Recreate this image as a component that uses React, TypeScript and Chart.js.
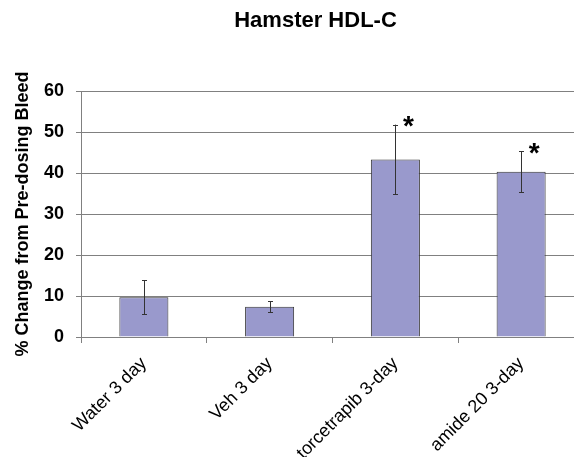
import React, { useEffect, useRef } from "react";
import { Chart, registerables } from "chart.js";

Chart.register(...registerables);

const categories = ["Water 3 day", "Veh 3 day", "torcetrapib 3-day", "amide 20 3-day"];
const means = [9.7, 7.4, 43.3, 40.3];
const errors = [4.1, 1.3, 8.5, 5.0];
const significance = ["", "", "*", "*"];
const yTicks = [0, 10, 20, 30, 40, 50, 60];

const FONT = "'Liberation Sans', Arial, sans-serif";
const W = 631;
const H = 470;

const errorBarPlugin = {
  id: "errorBars",
  afterDatasetsDraw(chart: any) {
    const ctx = chart.ctx;
    const meta = chart.getDatasetMeta(0);
    const y = chart.scales.y;
    ctx.save();
    ctx.strokeStyle = "#333333";
    ctx.lineWidth = 1;
    meta.data.forEach((bar: any, i: number) => {
      const x = Math.round(bar.x) + 0.5;
      const top = y.getPixelForValue(means[i] + errors[i]);
      const bot = y.getPixelForValue(means[i] - errors[i]);
      ctx.beginPath();
      ctx.moveTo(x, top);
      ctx.lineTo(x, bot);
      ctx.moveTo(x - 2.5, Math.round(top) + 0.5);
      ctx.lineTo(x + 2.5, Math.round(top) + 0.5);
      ctx.moveTo(x - 2.5, Math.round(bot) + 0.5);
      ctx.lineTo(x + 2.5, Math.round(bot) + 0.5);
      ctx.stroke();
      if (significance[i]) {
        ctx.fillStyle = "#000000";
        ctx.font = `bold 28px ${FONT}`;
        ctx.textAlign = "center";
        ctx.textBaseline = "alphabetic";
        ctx.fillText(significance[i], bar.x + 13, top - 6 + 0.58 * 28);
      }
    });
    ctx.restore();
  },
};

export default function App() {
  const ref = useRef<HTMLCanvasElement>(null);
  useEffect(() => {
    const chart = new Chart(ref.current!, {
      type: "bar",
      data: {
        labels: categories,
        datasets: [
          {
            data: means,
            backgroundColor: "#9999CC",
            borderColor: "#333333",
            borderWidth: 1,
            barPercentage: 0.39,
            categoryPercentage: 1,
          },
        ],
      },
      options: {
        responsive: false,
        animation: false,
        layout: { padding: 0 },
        plugins: {
          legend: { display: false },
          tooltip: { enabled: false },
          title: {
            display: true,
            text: "Hamster HDL-C",
            color: "#000000",
            font: { family: FONT, size: 22, weight: "bold" },
            padding: { top: 8, bottom: 91 - 8 - 26.4 },
          },
        },
        scales: {
          x: {
            offset: true,
            grid: {
              offset: true,
              drawOnChartArea: false,
              drawTicks: true,
              tickLength: 6,
              color: "#808080",
            },
            border: { color: "#808080", width: 1 },
            ticks: {
              color: "#000000",
              font: { family: FONT, size: 18 },
              minRotation: 45,
              maxRotation: 45,
              padding: 10,
            },
            afterFit(scale: any) {
              scale.height = H - 337;
            },
          },
          y: {
            min: 0,
            max: 60,
            afterBuildTicks(scale: any) {
              scale.ticks = yTicks.map((v) => ({ value: v }));
            },
            grid: { color: "#808080", tickLength: 5, lineWidth: 1 },
            border: { color: "#808080", width: 1 },
            ticks: {
              color: "#000000",
              font: { family: FONT, size: 18, weight: "bold" },
              padding: 12,
            },
            title: {
              display: true,
              text: "% Change from Pre-dosing Bleed",
              color: "#000000",
              font: { family: FONT, size: 18, weight: "bold" },
              padding: { top: 12, bottom: 0 },
            },
            afterFit(scale: any) {
              scale.width = 81;
            },
          },
          yRight: {
            position: "right",
            display: true,
            grid: { display: false, drawTicks: false },
            border: { display: false },
            ticks: { display: false },
            afterFit(scale: any) {
              scale.width = W - 584;
            },
          },
        },
      },
      plugins: [errorBarPlugin],
    });
    return () => chart.destroy();
  }, []);
  return (
    <div
      style={{
        position: "absolute",
        left: 0,
        top: 0,
        width: 574,
        height: 457,
        overflow: "hidden",
        background: "#ffffff",
      }}
    >
      <canvas ref={ref} width={W} height={H} style={{ display: "block" }} />
    </div>
  );
}
